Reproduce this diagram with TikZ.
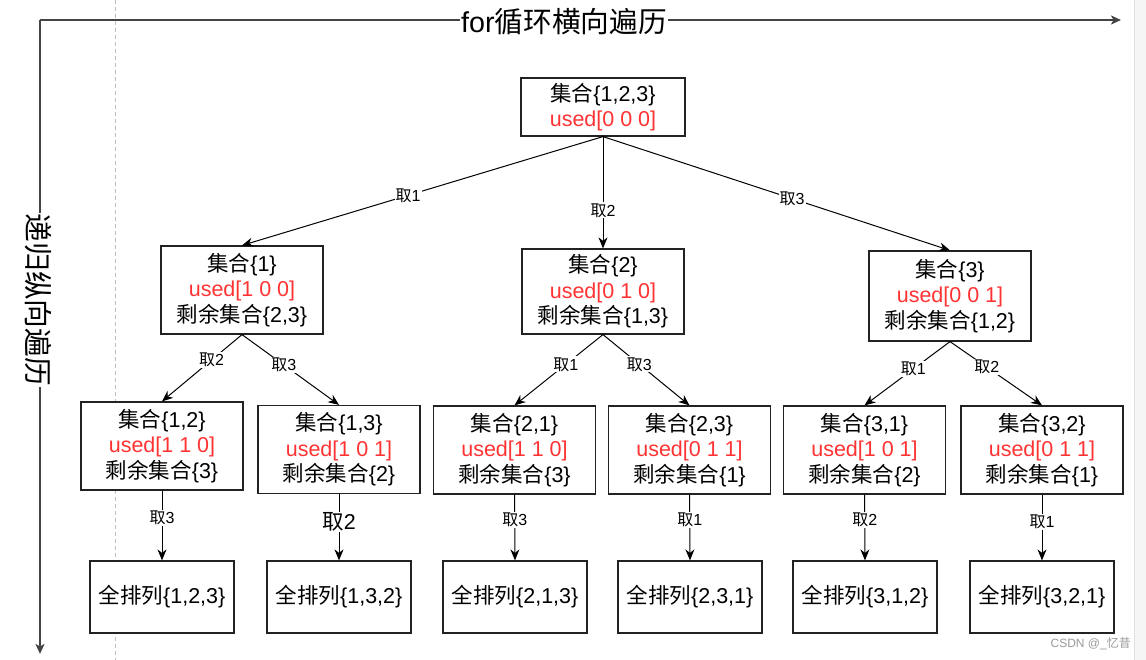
\documentclass[tikz,border=0pt]{standalone}
\usepackage{fontspec}
\setmainfont{Liberation Sans}
\newfontfamily\zh{Noto Sans CJK SC}
\usetikzlibrary{arrows.meta}
\definecolor{usedred}{HTML}{FF3333}
\definecolor{axisgray}{HTML}{444444}
\definecolor{boxline}{HTML}{222222}
\begin{document}
\begin{tikzpicture}[x=1pt,y=-1pt,
  box/.style={draw=boxline, line width=1.2pt, fill=white, align=center,
    font=\fontsize{21.5}{25.5}\selectfont, minimum width=162pt, minimum height=88pt, inner sep=0pt},
  rootbox/.style={box, minimum width=164pt, minimum height=58pt},
  leafbox/.style={box, minimum width=144pt, minimum height=72pt},
  edge/.style={draw=black, line width=1pt, -{Stealth[length=11pt,width=9pt,inset=3.5pt]}},
  elabel/.style={fill=white, inner sep=1pt, font=\fontsize{16}{18}\selectfont},
  axis/.style={draw=axisgray, line width=1.5pt, -{Stealth[length=10pt,width=9pt,inset=2.5pt]}}
]
\useasboundingbox (0,0) rectangle (1146,660);
\fill[white] (0,0) rectangle (1146,660);
% right strip
\fill[black!4] (1134,0) rectangle (1146,660);
\draw[black!12, line width=0.8pt] (1134,0) -- (1134,660);
% dashed guide
\draw[black!25, dashed, line width=0.6pt, dash pattern=on 4pt off 3pt] (115,0) -- (115,660);

% axes
\coordinate (O) at (40,20);
\coordinate (XE) at (1121,20);
\coordinate (YE) at (40,654);
\draw[axis] (O) -- (XE);
\draw[axis] (O) -- (YE);
\node[fill=white, inner sep=1pt, font=\fontsize{28.7}{31}\selectfont] (xt) at (564,22) {for{\zh 循环横向遍历}};
\node[fill=white, inner sep=1pt, rotate=-90, font=\fontsize{28.7}{31}\selectfont] (yt) at (38,300) {\zh 递归纵向遍历};

% level 0
\node[rootbox] (r) at (603,107) {{\zh 集合}\{1,2,3\}\\\textcolor{usedred}{used[0 0 0]}};
% level 1
\node[box] (a1) at (242,290) {{\zh 集合}\{1\}\\\textcolor{usedred}{used[1 0 0]}\\{\zh 剩余集合}\{2,3\}};
\node[box, minimum height=85pt] (a2) at (603,291.5) {{\zh 集合}\{2\}\\\textcolor{usedred}{used[0 1 0]}\\{\zh 剩余集合}\{1,3\}};
\node[box, minimum height=90pt] (a3) at (950,296) {{\zh 集合}\{3\}\\\textcolor{usedred}{used[0 0 1]}\\{\zh 剩余集合}\{1,2\}};
% level 2
\node[box] (b1) at (162,446) {{\zh 集合}\{1,2\}\\\textcolor{usedred}{used[1 1 0]}\\{\zh 剩余集合}\{3\}};
\node[box] (b2) at (339,449.5) {{\zh 集合}\{1,3\}\\\textcolor{usedred}{used[1 0 1]}\\{\zh 剩余集合}\{2\}};
\node[box] (b3) at (514.5,450) {{\zh 集合}\{2,1\}\\\textcolor{usedred}{used[1 1 0]}\\{\zh 剩余集合}\{3\}};
\node[box] (b4) at (689.5,450) {{\zh 集合}\{2,3\}\\\textcolor{usedred}{used[0 1 1]}\\{\zh 剩余集合}\{1\}};
\node[box] (b5) at (864.5,450) {{\zh 集合}\{3,1\}\\\textcolor{usedred}{used[1 0 1]}\\{\zh 剩余集合}\{2\}};
\node[box] (b6) at (1042,450) {{\zh 集合}\{3,2\}\\\textcolor{usedred}{used[0 1 1]}\\{\zh 剩余集合}\{1\}};
% level 3
\node[leafbox] (c1) at (162,597) {{\zh 全排列}\{1,2,3\}};
\node[leafbox] (c2) at (339,597) {{\zh 全排列}\{1,3,2\}};
\node[leafbox] (c3) at (515,597) {{\zh 全排列}\{2,1,3\}};
\node[leafbox] (c4) at (690,597) {{\zh 全排列}\{2,3,1\}};
\node[leafbox] (c5) at (865,597) {{\zh 全排列}\{3,1,2\}};
\node[leafbox] (c6) at (1042,597) {{\zh 全排列}\{3,2,1\}};

% edges level 0 -> 1
\draw[edge] (r.south) -- node[elabel, pos=0.54] {{\zh 取}1} (a1.north);
\draw[edge] (r.south) -- node[elabel, pos=0.66] {{\zh 取}2} (a2.north);
\draw[edge] (r.south) -- node[elabel, pos=0.545] {{\zh 取}3} (a3.north);
% level 1 -> 2
\draw[edge] (a1.south) -- node[elabel, pos=0.38] {{\zh 取}2} (b1.north);
\draw[edge] (a1.south) -- node[elabel, pos=0.43] {{\zh 取}3} (b2.north);
\draw[edge] (a2.south) -- node[elabel, pos=0.42] {{\zh 取}1} (b3.north);
\draw[edge] (a2.south) -- node[elabel, pos=0.42] {{\zh 取}3} (b4.north);
\draw[edge] (a3.south) -- node[elabel, pos=0.43] {{\zh 取}1} (b5.north);
\draw[edge] (a3.south) -- node[elabel, pos=0.40] {{\zh 取}2} (b6.north);
% level 2 -> 3
\draw[edge] (b1.south) -- node[elabel, pos=0.39] {{\zh 取}3} (c1.north);
\draw[edge] (b2.south) -- node[elabel, pos=0.42, font=\fontsize{21.5}{23}\selectfont] {{\zh 取}2} (c2.north);
\draw[edge] (b3.south) -- node[elabel, pos=0.39] {{\zh 取}3} (c3.north);
\draw[edge] (b4.south) -- node[elabel, pos=0.39] {{\zh 取}1} (c4.north);
\draw[edge] (b5.south) -- node[elabel, pos=0.39] {{\zh 取}2} (c5.north);
\draw[edge] (b6.south) -- node[elabel, pos=0.42] {{\zh 取}1} (c6.north);

% watermark
\node[anchor=east, text=black!40, font=\fontsize{12}{14}\selectfont, inner sep=0pt] (wm) at (1131,644) {CSDN @\_{\zh 忆昔}};
\end{tikzpicture}
\end{document}
